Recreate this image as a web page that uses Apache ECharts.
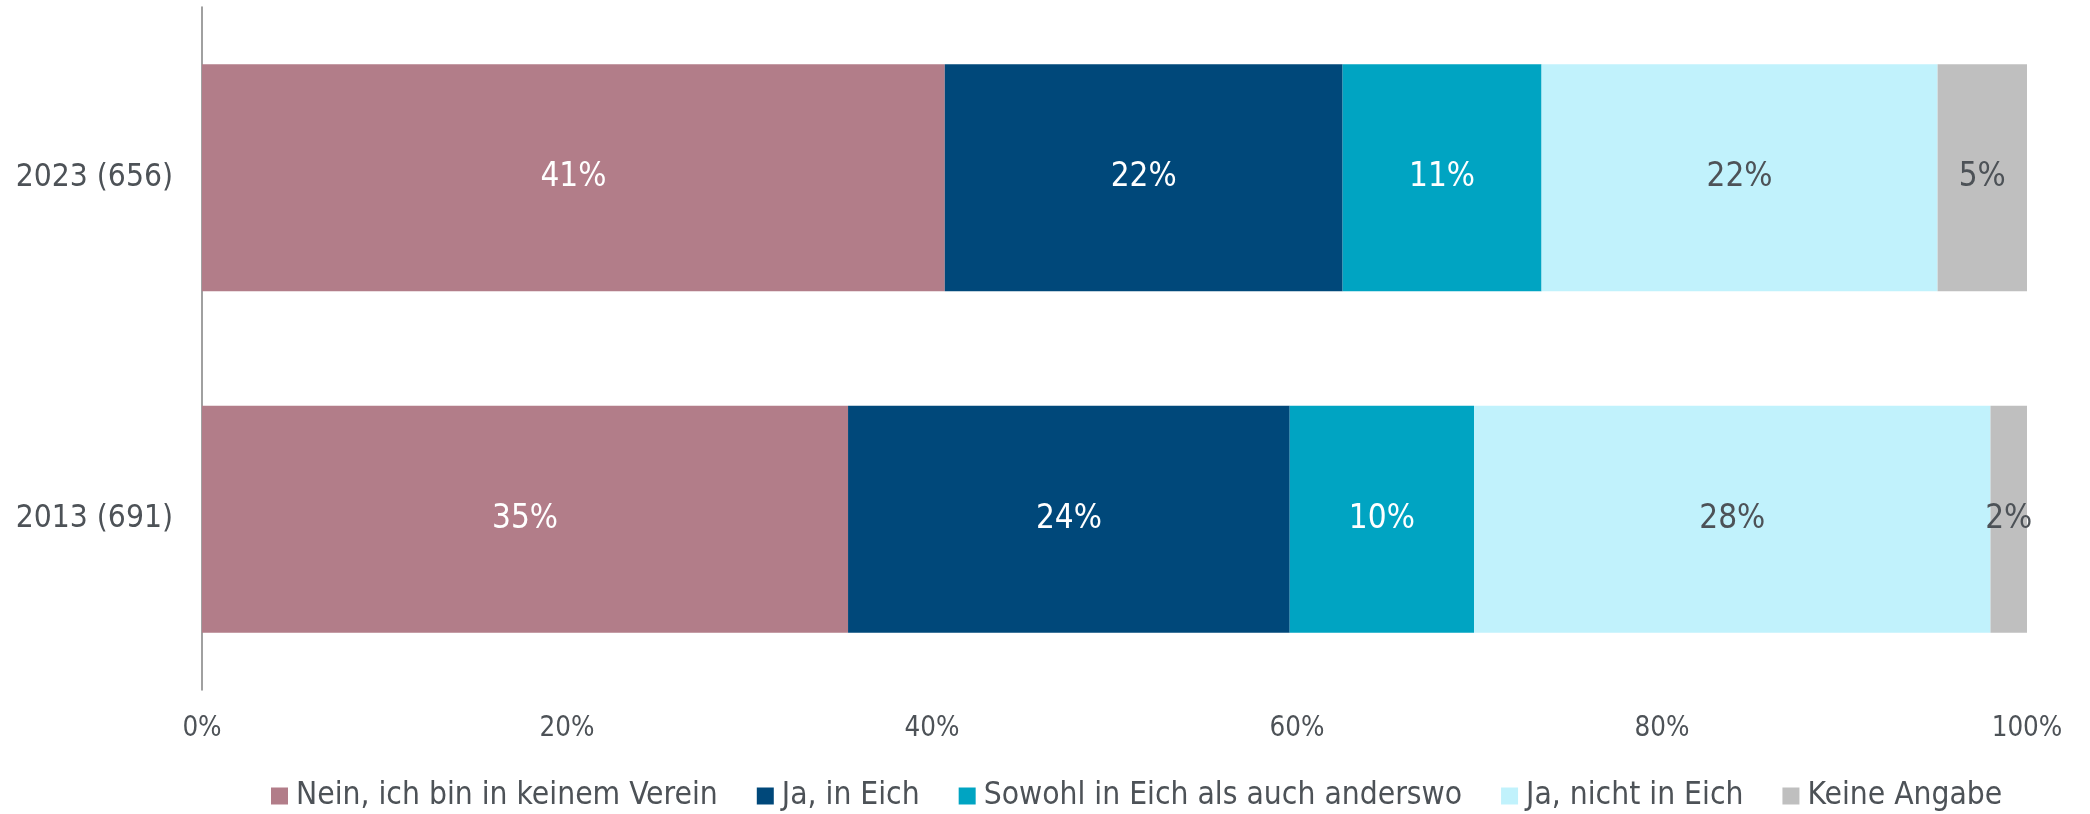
<!DOCTYPE html>
<html>
<head>
<meta charset="utf-8">
<script src="https://cdn.jsdelivr.net/npm/echarts@6/dist/echarts.min.js"></script>
<style>
  html, body { margin: 0; padding: 0; background: #fff; }
  #container { width: 2090px; height: 814px; }
</style>
</head>
<body>
<div id="container"></div>
<script>
// categories, top to bottom
const years = ['2023 (656)', '2013 (691)'];
const seriesNames = ['Nein, ich bin in keinem Verein', 'Ja, in Eich', 'Sowohl in Eich als auch anderswo', 'Ja, nicht in Eich', 'Keine Angabe'];
// shares in percent, [2023, 2013]
const nein = [40.7, 35.4];
const jaEich = [21.8, 24.2];
const sowohl = [10.9, 10.1];
const jaNicht = [21.7, 28.3];
const keine = [4.9, 2.0];
const xTicks = [0, 20, 40, 60, 80, 100];

const colors = ['#b27d89', '#00487a', '#00a4c2', '#c1f2fc', '#bfbfbf'];
const labelColors = ['#ffffff', '#ffffff', '#ffffff', '#4d5257', '#4d5257'];
const FONT = '"DejaVu Sans Condensed", "DejaVu Sans", sans-serif';
const TEXT = '#4d5257';

let values = [nein, jaEich, sowohl, jaNicht, keine];

let myChart = echarts.init(document.getElementById('container'));
myChart.setOption({
  animation: false,
  textStyle: { fontFamily: FONT },
  color: colors,
  grid: { left: 202, right: 63, top: 7, bottom: 124, containLabel: false },
  legend: {
    left: 266,
    top: 775,
    icon: 'rect',
    itemWidth: 17,
    itemHeight: 17,
    itemGap: 39,
    textStyle: { fontFamily: FONT, fontSize: 31.5, color: TEXT, padding: [0, 0, 0, 3] },
    data: seriesNames
  },
  xAxis: {
    type: 'value',
    min: xTicks[0],
    max: xTicks[xTicks.length - 1],
    interval: 20,
    axisLine: { show: false },
    axisTick: { show: false },
    splitLine: { show: false },
    axisLabel: {
      margin: 25,
      fontSize: 27.5,
      color: TEXT,
      fontFamily: FONT,
      formatter: '{value}%'
    }
  },
  yAxis: {
    type: 'category',
    inverse: true,
    data: years,
    axisLine: { show: true, lineStyle: { color: '#808080', width: 1.5 } },
    axisTick: { show: false },
    axisLabel: { margin: 29, fontSize: 31.5, color: TEXT, fontFamily: FONT }
  },
  series: seriesNames.map(function (name, i) {
    return {
      name: name,
      type: 'bar',
      stack: 'total',
      barWidth: 227,
      data: values[i],
      itemStyle: { color: colors[i] },
      label: {
        show: true,
        position: 'inside',
        fontSize: 33,
        fontFamily: FONT,
        color: labelColors[i],
        formatter: function (p) { return Math.round(p.value) + '%'; }
      }
    };
  })
});
</script>
</body>
</html>
